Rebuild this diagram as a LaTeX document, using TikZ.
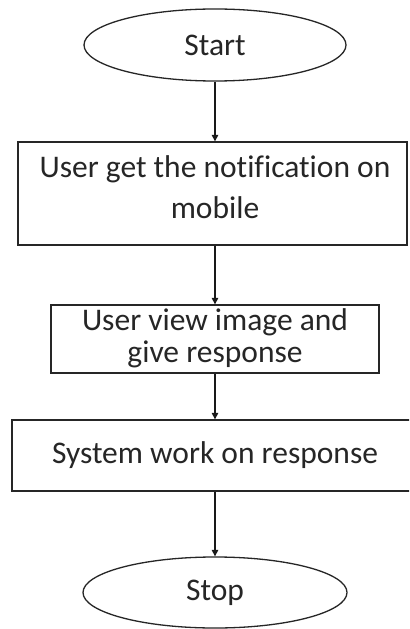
\documentclass[tikz,border=0pt]{standalone}
\usepackage{fontspec}
\setmainfont{Carlito}[Ligatures=NoCommon]
\usetikzlibrary{shapes.geometric,arrows.meta}
\begin{document}
\begin{tikzpicture}[x=1bp,y=-1bp,
  every node/.style={font=\fontsize{31.5bp}{41bp}\selectfont, text=black!85, inner sep=0pt},
  terminal/.style={draw=black!85, line width=1.3bp, ellipse},
  stepbox/.style={draw=black!85, line width=1.3bp, rectangle},
  flow/.style={draw=black!90, line width=1.1bp, -{Triangle[width=6.5bp,length=6.5bp]}}]
\clip (0,0) rectangle (409,629);
\fill[white] (0,0) rectangle (409,629);
\node[terminal, minimum width=262bp, minimum height=72bp] (start) at (215,45) {Start};
\node[stepbox, minimum width=389bp, minimum height=103bp] (b1) at (212.5,193.5) {};
\node[align=center] (t1) at (215,187) {User get the notification on\\mobile};
\node[stepbox, minimum width=328bp, minimum height=68bp] (b2) at (215,339) {};
\node[align=center, font=\fontsize{31.5bp}{32bp}\selectfont] (t2) at (215,338.5) {User view image and\\give response};
\node[stepbox, minimum width=406bp, minimum height=71bp] (b3) at (215,455.5) {System work on response};
\node[terminal, minimum width=264bp, minimum height=71bp] (stop) at (215,592.5) {Stop};
\draw[flow] (start) -- (start |- b1.north);
\draw[flow] (b1.south -| start) -- (start |- b2.north);
\draw[flow] (b2.south) -- (b3.north);
\draw[flow] (b3.south) -- (stop);
\end{tikzpicture}
\end{document}
